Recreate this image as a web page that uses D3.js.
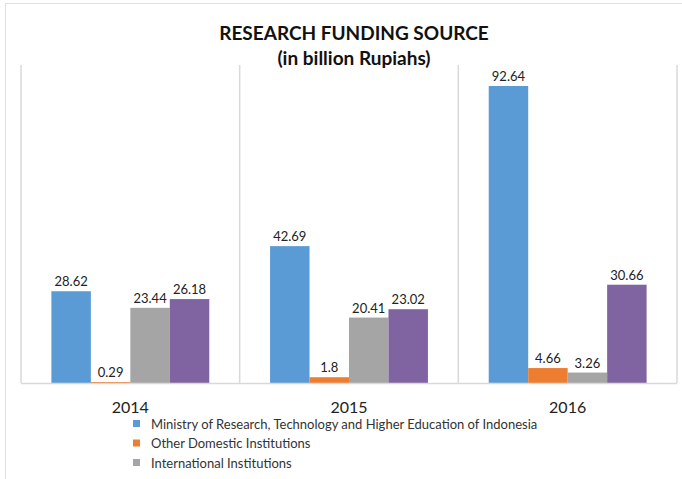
<!DOCTYPE html>
<html><head><meta charset="utf-8">
<script src="https://cdn.jsdelivr.net/npm/d3@7"></script>
<style>body{margin:0;background:#fff}svg{display:block}</style>
</head><body>
<script>
const years = ["2014", "2015", "2016"];
const seriesNames = [
  "Ministry of Research, Technology and Higher Education of Indonesia",
  "Other Domestic Institutions",
  "International Institutions",
  "Other"
];
const ministry = [28.62, 42.69, 92.64];
const otherDomestic = [0.29, 1.8, 4.66];
const international = [23.44, 20.41, 3.26];
const fourth = [26.18, 23.02, 30.66];
const colors = ["#5B9BD5", "#ED7D31", "#A5A5A5", "#8064A2"];
const legendShown = 3;

const W = 682, H = 479;
const svg = d3.select("body").append("svg").attr("width", W).attr("height", H);
const font = "Lato, 'Noto Sans', sans-serif";

// outer frame (partially visible)
svg.append("line").attr("x1", 5).attr("x2", W).attr("y1", 3.5).attr("y2", 3.5).attr("stroke", "#e0e0e0");
svg.append("line").attr("x1", 5.5).attr("x2", 5.5).attr("y1", 3).attr("y2", H).attr("stroke", "#e0e0e0");

const plot = {left: 21, right: 677, top: 65, bottom: 383};
const x0 = d3.scaleBand().domain(years).range([plot.left, plot.right]).paddingInner(0).paddingOuter(0);
const x1 = d3.scaleBand().domain(d3.range(4)).range([0, x0.bandwidth()]).paddingOuter(0.77).paddingInner(0);
const y = d3.scaleLinear().domain([0, 92.64]).range([plot.bottom, 86]);

const data = [ministry, otherDomestic, international, fourth];

// group separator lines
const seps = [plot.left, ...years.map(yr => x0(yr) + x0.bandwidth())];
svg.selectAll(".sep").data(seps).enter().append("line")
  .attr("x1", d => d).attr("x2", d => d).attr("y1", plot.top).attr("y2", plot.bottom)
  .attr("stroke", "#d9d9d9").attr("stroke-width", 1.5);

// bars
years.forEach((yr, i) => {
  const g = svg.append("g").attr("transform", `translate(${x0(yr)},0)`);
  data.forEach((s, k) => {
    g.append("rect").attr("x", x1(k)).attr("width", x1.bandwidth())
      .attr("y", y(s[i])).attr("height", y(0) - y(s[i])).attr("fill", colors[k]);
    g.append("text").attr("x", x1(k) + x1.bandwidth() / 2).attr("y", y(s[i]) - 5)
      .attr("text-anchor", "middle").attr("font-family", font).attr("font-size", 13)
      .attr("fill", "#222").text(s[i]);
  });
});

// axis baseline
svg.append("line").attr("x1", plot.left).attr("x2", plot.right).attr("y1", plot.bottom + 0.5).attr("y2", plot.bottom + 0.5)
  .attr("stroke", "#d9d9d9").attr("stroke-width", 1.5);

// year labels
svg.selectAll(".yl").data(years).enter().append("text")
  .attr("x", d => x0(d) + x0.bandwidth() / 2).attr("y", 413)
  .attr("text-anchor", "middle").attr("font-family", font).attr("font-size", 16)
  .attr("fill", "#222").text(d => d);

// title
svg.append("text").attr("x", 354).attr("y", 40).attr("text-anchor", "middle")
  .attr("font-family", font).attr("font-weight", "bold").attr("font-size", 19).attr("fill", "#111")
  .text("RESEARCH FUNDING SOURCE");
svg.append("text").attr("x", 354).attr("y", 65).attr("text-anchor", "middle")
  .attr("font-family", font).attr("font-weight", "bold").attr("font-size", 19).attr("fill", "#111")
  .text("(in billion Rupiahs)");

// legend
const lg = svg.append("g");
seriesNames.slice(0, legendShown).forEach((n, k) => {
  const yy = 424 + k * 19.5;
  lg.append("rect").attr("x", 133).attr("y", yy - 4).attr("width", 7).attr("height", 7).attr("fill", colors[k]);
  lg.append("text").attr("x", 151).attr("y", yy + 4.5).attr("font-family", font).attr("font-size", 13)
    .attr("fill", "#333").text(n);
});
</script>
</body></html>
